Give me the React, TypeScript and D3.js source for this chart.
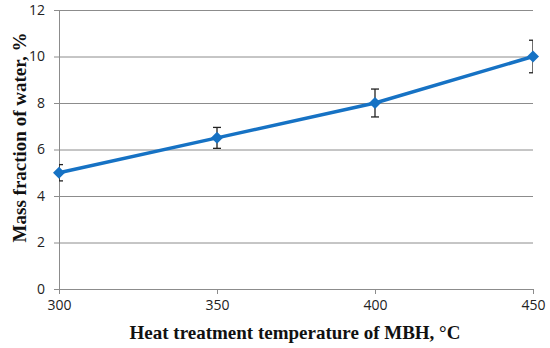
import React, { useEffect, useRef } from 'react';
import * as d3 from 'd3';

const temperatures = [300, 350, 400, 450];
const waterFraction = [5.0, 6.5, 8.0, 10.0];
const errorBars = [0.35, 0.45, 0.6, 0.7];
const xTicks = [300, 350, 400, 450];
const yTicks = [0, 2, 4, 6, 8, 10, 12];

const App: React.FC = () => {
  const svgRef = useRef<SVGSVGElement>(null);

  useEffect(() => {
    if (!svgRef.current) return;
    const width = 550;
    const height = 348;
    const margin = { top: 10, right: 17, bottom: 59, left: 59 };
    const innerW = width - margin.left - margin.right;
    const innerH = height - margin.top - margin.bottom;

    d3.select(svgRef.current).selectAll('*').remove();
    const root = d3.select(svgRef.current)
      .attr('width', width)
      .attr('height', height);

    root.append('rect').attr('width', width).attr('height', height).attr('fill', '#ffffff');

    const svg = root.append('g')
      .attr('transform', `translate(${margin.left},${margin.top})`);

    const x = d3.scaleLinear().domain([300, 450]).range([0, innerW]);
    const y = d3.scaleLinear().domain([0, 12]).range([innerH, 0]);

    // Grid lines
    svg.append('g')
      .call(d3.axisLeft(y).tickValues(yTicks).tickSize(-innerW).tickFormat(() => ''))
      .call(g => g.select('.domain').remove())
      .selectAll('line')
      .attr('stroke', '#8c8c8c')
      .attr('stroke-width', 1);

    // Y axis
    const yAxis = svg.append('g')
      .call(d3.axisLeft(y).tickValues(yTicks).tickSize(5).tickPadding(9).tickSizeOuter(0));
    yAxis.select('.domain').attr('stroke', '#8c8c8c');
    yAxis.selectAll('line').attr('stroke', '#8c8c8c');
    yAxis.selectAll('text')
      .style('font-family', '"Open Sans", "Liberation Sans", sans-serif')
      .style('font-size', '14px')
      .attr('fill', '#222');

    // X axis
    const xAxis = svg.append('g')
      .attr('transform', `translate(0,${innerH})`)
      .call(d3.axisBottom(x).tickValues(xTicks).tickSize(5).tickPadding(6).tickSizeOuter(0));
    xAxis.select('.domain').attr('stroke', '#8c8c8c');
    xAxis.selectAll('line').attr('stroke', '#8c8c8c');
    xAxis.selectAll('text')
      .style('font-family', '"Open Sans", "Liberation Sans", sans-serif')
      .style('font-size', '14px')
      .attr('fill', '#222');

    const points = temperatures.map((t, i) => ({ t, v: waterFraction[i], e: errorBars[i] }));

    // Error bars clipped to plot area
    svg.append('clipPath').attr('id', 'plot-clip')
      .append('rect').attr('width', innerW).attr('height', innerH);

    const err = svg.append('g').attr('clip-path', 'url(#plot-clip)')
      .attr('stroke', '#222').attr('stroke-width', 1.3).attr('fill', 'none');
    points.forEach(p => {
      const cx = x(p.t);
      const y1 = y(p.v + p.e);
      const y2 = y(p.v - p.e);
      err.append('line').attr('x1', cx).attr('x2', cx).attr('y1', y1).attr('y2', y2);
      err.append('line').attr('x1', cx - 4).attr('x2', cx + 4).attr('y1', y1).attr('y2', y1);
      err.append('line').attr('x1', cx - 4).attr('x2', cx + 4).attr('y1', y2).attr('y2', y2);
    });

    const line = d3.line<{ t: number; v: number }>()
      .x(d => x(d.t))
      .y(d => y(d.v));

    svg.append('path')
      .datum(points)
      .attr('d', line)
      .attr('fill', 'none')
      .attr('stroke', '#1672c4')
      .attr('stroke-width', 3.5);

    // Square diamonds (rotated squares)
    svg.append('g')
      .selectAll('path')
      .data(points)
      .join('path')
      .attr('d', d3.symbol().type(d3.symbolSquare).size(72))
      .attr('transform', d => `translate(${x(d.t)},${y(d.v)}) rotate(45)`)
      .attr('fill', '#1672c4');

    // Axis titles
    root.append('text')
      .attr('transform', `translate(26,${margin.top + innerH / 2 - 12}) rotate(-90)`)
      .attr('text-anchor', 'middle')
      .style('font-family', '"Liberation Serif", "Times New Roman", serif')
      .style('font-weight', 'bold')
      .style('font-size', '19px')
      .attr('fill', '#111')
      .text('Mass fraction of water, %');

    root.append('text')
      .attr('x', 295)
      .attr('y', 339)
      .attr('text-anchor', 'middle')
      .style('font-family', '"Liberation Serif", "Times New Roman", serif')
      .style('font-weight', 'bold')
      .style('font-size', '19px')
      .attr('fill', '#111')
      .text('Heat treatment temperature of MBH, °C');
  }, []);

  return (
    <div style={{ position: 'absolute', left: 0, top: 0 }}>
      <svg ref={svgRef} style={{ display: 'block' }} />
    </div>
  );
};

export default App;
